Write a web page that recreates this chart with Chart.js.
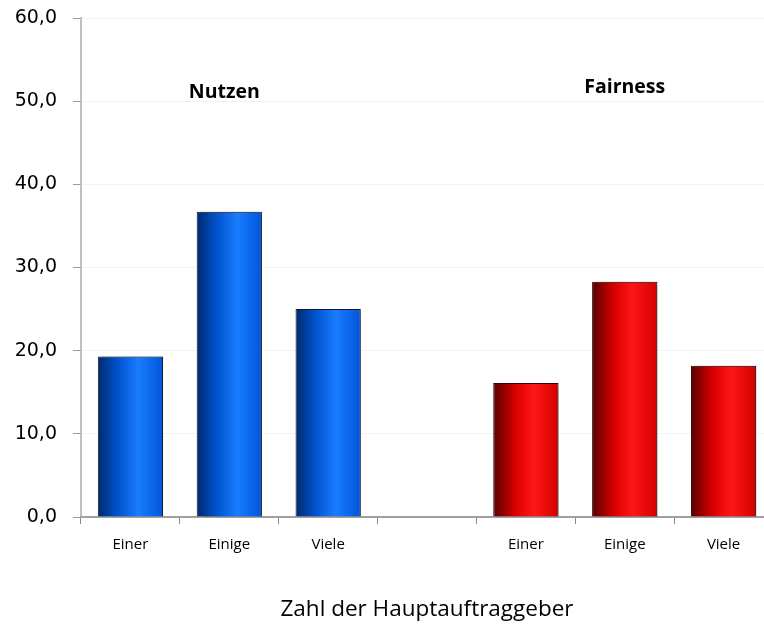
<!DOCTYPE html>
<html>
<head>
<meta charset="utf-8">
<script src="https://cdn.jsdelivr.net/npm/chart.js@4"></script>
<style>
  html, body { margin: 0; padding: 0; background: #fff; overflow: hidden; }
  #wrap { width: 764px; height: 628px; overflow: hidden; position: relative; }
  #chart { position: absolute; left: 0; top: 0; }
</style>
</head>
<body>
<div id="wrap"><canvas id="chart" width="773" height="628"></canvas></div>
<script>
// Chart data
const categories = ['Einer', 'Einige', 'Viele', '', 'Einer', 'Einige', 'Viele'];
const nutzenValues = [19.3, 36.7, 25.0, null, null, null, null];
const fairnessValues = [null, null, null, null, 16.1, 28.3, 18.2];
const yTicks = [0, 10, 20, 30, 40, 50, 60];

// group labels drawn inside the plot: [text, category position, value]
const groupLabels = [['Nutzen', 0.95, 51.1], ['Fairness', 5.0, 51.6]];

const BAR_PCT = 0.66;

// horizontal "cylinder" gradient per bar
function barGradient(ctx, stops) {
    const chart = ctx.chart;
    const x = chart.scales.x;
    if (!x || ctx.dataIndex === undefined) return stops[1][1];
    const center = x.getPixelForValue(ctx.dataIndex);
    const half = (x.width / categories.length) * BAR_PCT / 2;
    if (!isFinite(center) || !isFinite(half) || half <= 0) return stops[1][1];
    const g = chart.ctx.createLinearGradient(center - half, 0, center + half, 0);
    stops.forEach(s => g.addColorStop(s[0], s[1]));
    return g;
}

const blueStops = [[0, '#00286a'], [0.3, '#0052cc'], [0.62, '#1a7cff'], [1, '#0056d8']];
const redStops = [[0, '#580000'], [0.35, '#dc0000'], [0.62, '#ff1616'], [1, '#d20000']];

// soft grey edge on the right side of each bar
const barShadowPlugin = {
    id: 'barShadow',
    beforeDatasetsDraw(chart) {
        const ctx = chart.ctx;
        ctx.save();
        ctx.shadowColor = 'rgba(0,0,0,0.35)';
        ctx.shadowOffsetX = 3;
        ctx.shadowOffsetY = 0;
        ctx.shadowBlur = 1;
    },
    afterDatasetsDraw(chart) {
        chart.ctx.restore();
    }
};

const groupLabelPlugin = {
    id: 'groupLabels',
    afterDatasetsDraw(chart) {
        const ctx = chart.ctx;
        ctx.save();
        ctx.font = 'bold 19.5px "Open Sans"';
        ctx.fillStyle = '#000';
        ctx.textAlign = 'center';
        ctx.textBaseline = 'middle';
        groupLabels.forEach(l => {
            ctx.fillText(l[0], chart.scales.x.getPixelForValue(l[1]), chart.scales.y.getPixelForValue(l[2]));
        });
        ctx.restore();
    }
};

const chart = new Chart(document.getElementById('chart'), {
    type: 'bar',
    data: {
        labels: categories,
        datasets: [{
            label: 'Nutzen',
            data: nutzenValues,
            backgroundColor: ctx => barGradient(ctx, blueStops),
            borderColor: '#161a26',
            borderWidth: 1
        }, {
            label: 'Fairness',
            data: fairnessValues,
            backgroundColor: ctx => barGradient(ctx, redStops),
            borderColor: '#2a0808',
            borderWidth: 1
        }]
    },
    options: {
        responsive: false,
        animation: false,
        grouped: false,
        barPercentage: BAR_PCT,
        categoryPercentage: 1,
        layout: { padding: { top: 18, left: 0, right: 0, bottom: 0 } },
        plugins: {
            legend: { display: false },
            tooltip: { enabled: false }
        },
        scales: {
            y: {
                min: 0,
                max: 60,
                afterBuildTicks: s => { s.ticks = yTicks.map(v => ({ value: v })); },
                afterFit: s => {
                    s.width = 81;
                    s.paddingTop = 0;
                    s.paddingBottom = 0;
                },
                ticks: {
                    font: { family: '"DejaVu Sans"', size: 19 },
                    color: '#000',
                    padding: 16,
                    callback: v => v.toFixed(1).replace('.', ',')
                },
                grid: { color: '#f2f2f2', tickColor: '#9a9a9a', tickLength: 8 },
                border: { color: '#c0c0c0', width: 2 }
            },
            x: {
                afterFit: s => { s.height = 111; },
                ticks: {
                    font: { family: '"Open Sans"', size: 15 },
                    color: '#000',
                    padding: 12
                },
                grid: { color: 'rgba(0,0,0,0)', tickColor: '#8a8a8a', tickLength: 7 },
                border: { color: '#a0a0a0', width: 2 },
                title: {
                    display: true,
                    text: 'Zahl der Hauptauftraggeber',
                    font: { family: '"Open Sans"', size: 22.5 },
                    color: '#000',
                    padding: { top: 0, bottom: 5 }
                }
            }
        }
    },
    plugins: [barShadowPlugin, groupLabelPlugin]
});
// second pass so the gradients see the laid-out scales
chart.update();
</script>
</body>
</html>
